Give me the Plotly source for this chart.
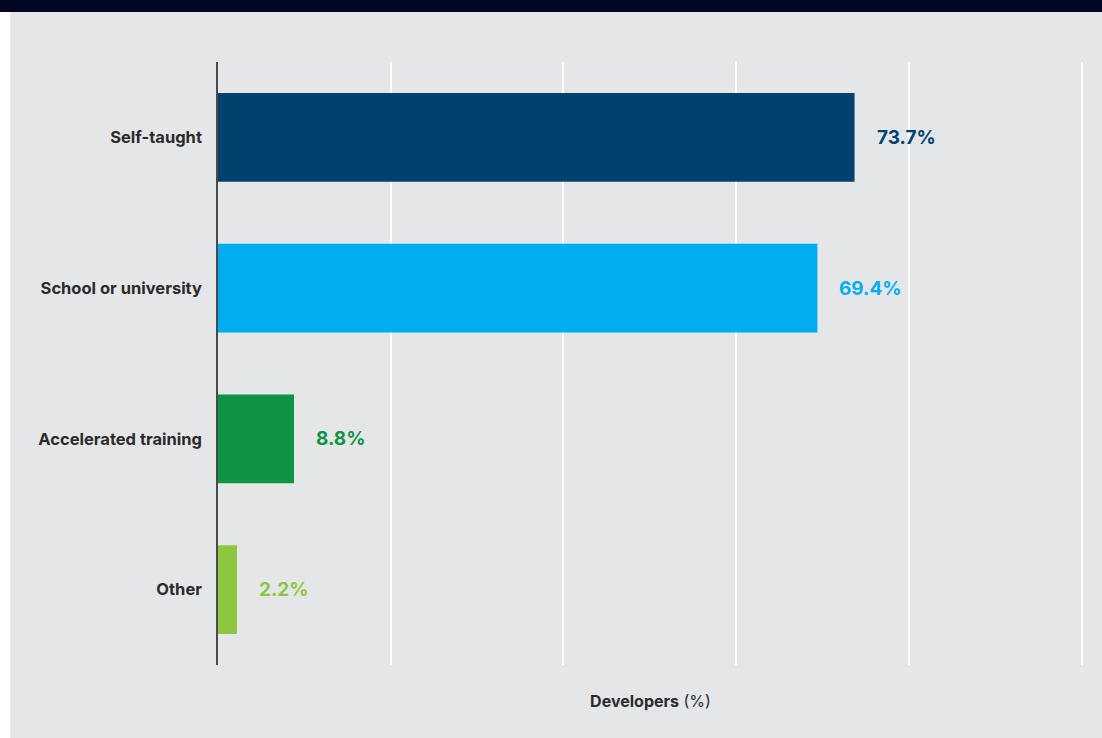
import plotly.graph_objects as go

categories = ["Self-taught", "School or university", "Accelerated training", "Other"]
values = [73.7, 69.4, 8.8, 2.2]
labels = ["73.7%", "69.4%", "8.8%", "2.2%"]
colors = ["#00416e", "#00aeef", "#0e9444", "#8dc63f"]

FONT = "Inter"

fig = go.Figure()
fig.add_trace(go.Bar(
    x=values, y=categories, orientation="h",
    marker=dict(color=colors, line=dict(width=0)),
    hoverinfo="skip", showlegend=False,
))

# value labels to the right of each bar
for v, c, lab, col in zip(values, categories, labels, colors):
    fig.add_annotation(x=v, y=c, text=f"<b>{lab}</b>", showarrow=False,
                       xanchor="left", xshift=20,
                       font=dict(family=FONT, size=19, color=col))

# grey panel and navy header band (paper coords; plot area l=217, t=62, w=866, h=603)
fig.add_shape(type="rect", xref="paper", yref="paper", layer="below",
              x0=-0.2402, x1=1.03, y0=-0.125, y1=1.11,
              fillcolor="#e5e6e8", line=dict(width=0))
fig.add_shape(type="rect", xref="paper", yref="paper", layer="below",
              x0=-0.26, x1=1.03, y0=1.083, y1=1.11,
              fillcolor="#020524", line=dict(width=0))

fig.update_layout(
    width=1102, height=738,
    margin=dict(l=218, r=19, t=62, b=73),
    paper_bgcolor="white", plot_bgcolor="rgba(0,0,0,0)",
    bargap=0.41,
    font=dict(family=FONT, color="#2b2b2b"),
)
fig.update_xaxes(range=[0, 100.15], dtick=20, showgrid=True, gridcolor="white", gridwidth=1.5,
                 showticklabels=False, zeroline=False, showline=False, fixedrange=True,
                 title=dict(text="<b>Developers</b> (%)", standoff=30,
                            font=dict(family=FONT, size=16, color="#2b2b2b")))
fig.update_yaxes(autorange="reversed", showline=True, linecolor="#4a4a4a", linewidth=1.5,
                 showgrid=False, ticks="", ticklabelstandoff=11, fixedrange=True,
                 tickfont=dict(family=FONT, size=16.5, color="#2b2b2b", weight="bold"))

fig.write_html("out.html", config={"displayModeBar": False},
               post_script="document.body.style.margin='0';")
